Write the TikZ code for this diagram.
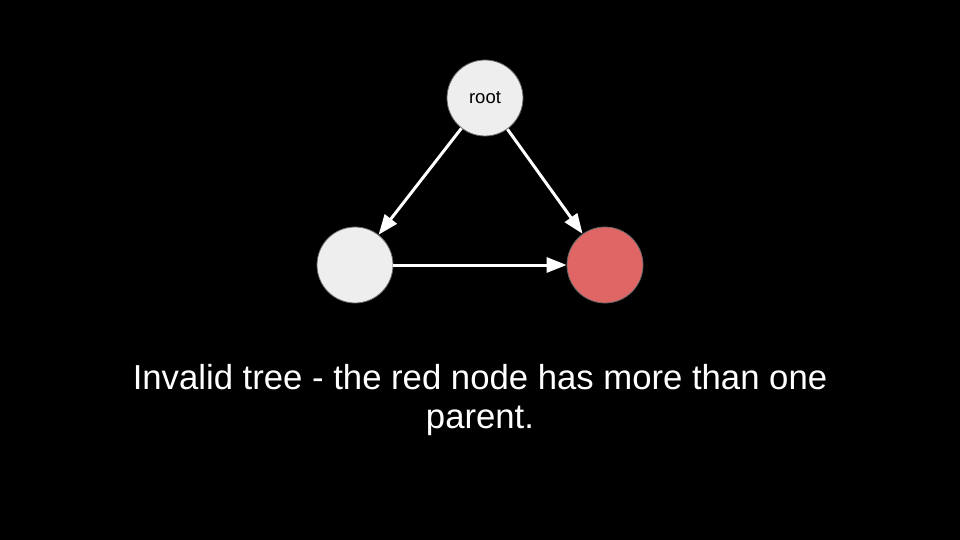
\documentclass[tikz,border=0pt]{standalone}
\usepackage{fontspec}
\setmainfont{Liberation Sans}
\usetikzlibrary{arrows.meta}
\definecolor{nodegray}{HTML}{EEEEEE}
\definecolor{nodered}{HTML}{E06666}
\definecolor{rimgray}{HTML}{666666}
\begin{document}
\begin{tikzpicture}[x=1pt,y=-1pt,
  treenode/.style={circle,draw=rimgray,line width=0.8pt,minimum size=76pt,inner sep=0pt,fill=nodegray,
    font=\fontsize{18.5}{22}\selectfont},
  rednode/.style={treenode,fill=nodered},
  edge/.style={draw=white,line width=3pt,-{Triangle[length=20pt,width=15pt]}}]
\fill[black] (0,0) rectangle (960,540);
\useasboundingbox (0,0) rectangle (960,540);
\node[treenode] (root) at (485,98) {root};
\node[treenode] (left) at (355,265) {};
\node[rednode] (red) at (605,265) {};
\draw[edge] (root) -- (left);
\draw[edge] (root) -- (red);
\draw[edge] (left) -- (red);
\node[text=white,align=center,font=\fontsize{34.7}{38.5}\selectfont] (caption) at (480,400)
  {Invalid tree - the red node has more than one\\parent.};
\end{tikzpicture}
\end{document}
